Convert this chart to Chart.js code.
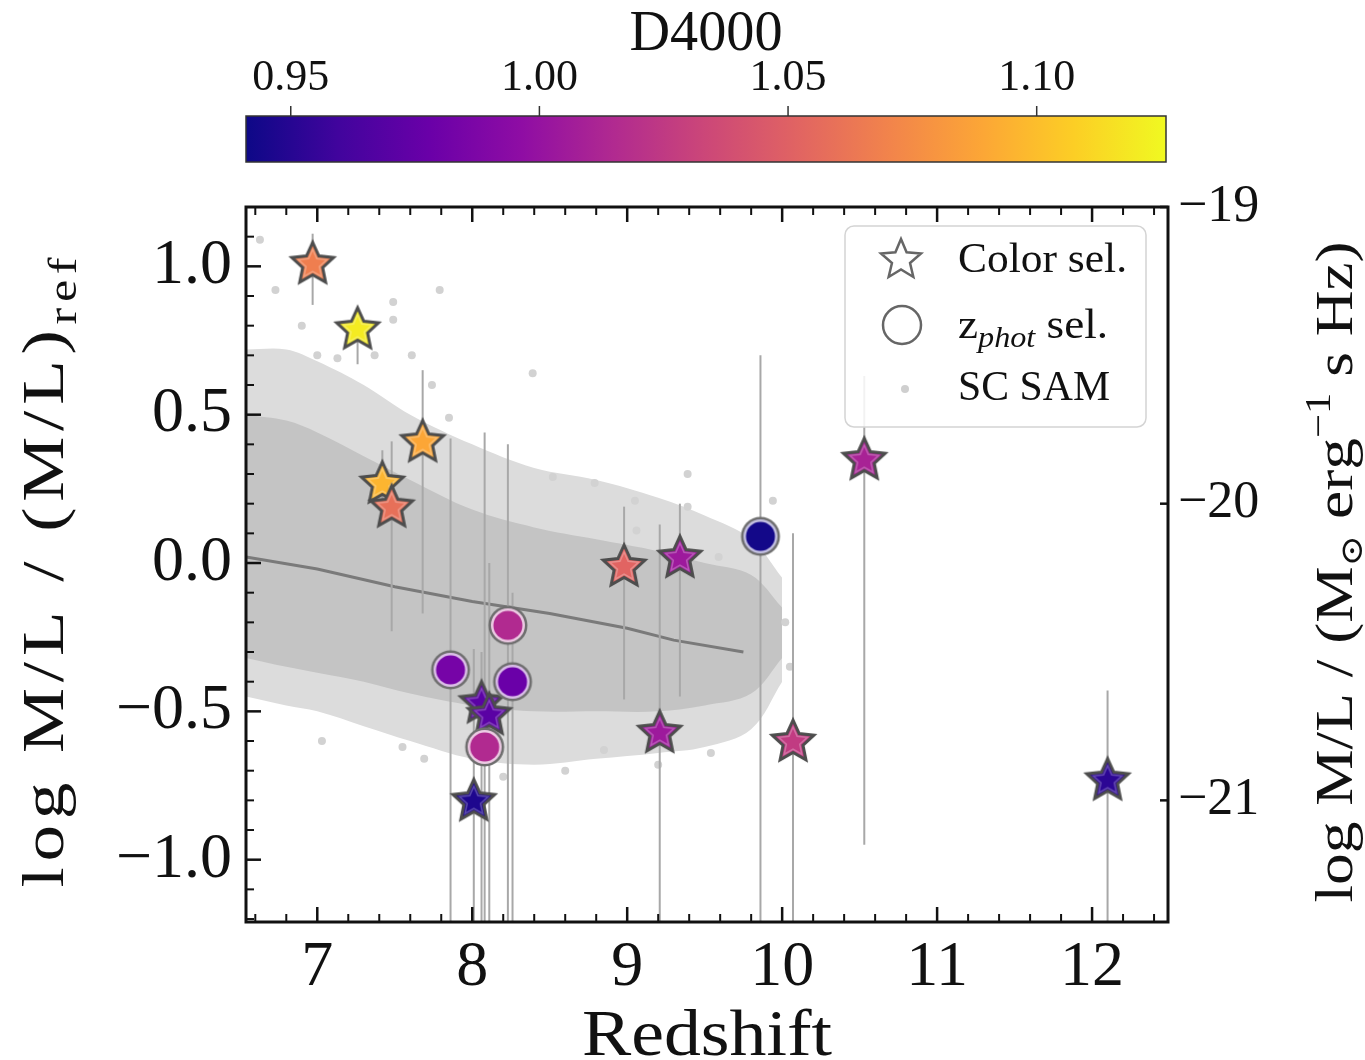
<!DOCTYPE html>
<html>
<head>
<meta charset="utf-8">
<script src="https://cdn.jsdelivr.net/npm/chart.js@4.4.1/dist/chart.umd.min.js"></script>
<style>
  html, body { margin: 0; padding: 0; background: #fff; }
  #wrap { width: 1365px; height: 1060px; }
</style>
</head>
<body>
<div id="wrap"><canvas id="chart" width="1365" height="1060"></canvas></div>
<script>
// Color-selected galaxies (stars)
const starZ     = [6.97, 7.26, 7.68, 7.42, 7.48, 8.98, 9.34, 9.21, 10.53, 10.07, 12.10, 8.01, 8.06, 8.11];
const starML    = [1.01, 0.79, 0.41, 0.27, 0.19, -0.01, 0.02, -0.57, 0.35, -0.60, -0.73, -0.80, -0.47, -0.51];
const starLo    = [0.87, 0.67, -0.17, 0.17, -0.23, -0.46, -0.45, -1.3, -0.95, -1.3, -1.3, -1.3, -1.3, -1.3];
const starHi    = [1.11, 0.86, 0.65, 0.38, 0.41, 0.19, 0.20, 0.13, 0.63, 0.10, -0.43, -0.29, -0.30, 0.00];
const starD4000 = [1.067, 1.120, 1.089, 1.096, 1.059, 1.052, 1.004, 1.004, 1.010, 1.026, 0.952, 0.947, 0.971, 0.971];

// zphot-selected galaxies (circles)
const circZ     = [9.86, 8.23, 7.86, 8.26, 8.08];
const circML    = [0.09, -0.21, -0.36, -0.40, -0.62];
const circLo    = [-1.3, -1.3, -1.3, -1.3, -1.3];
const circHi    = [0.70, 0.40, 0.42, -0.10, 0.44];
const circD4000 = [0.943, 1.015, 0.984, 0.978, 1.015];

// SC SAM cloud: envelopes of the dense and the sparse parts
const samX        = [6.54, 6.8, 7.0, 7.3, 7.6, 8.0, 8.4, 8.8, 9.2, 9.5, 9.8, 10.0];
const samOuterTop = [0.72, 0.72, 0.68, 0.60, 0.50, 0.40, 0.32, 0.28, 0.22, 0.16, 0.08, -0.05];
const samOuterBot = [-0.45, -0.48, -0.50, -0.55, -0.60, -0.66, -0.68, -0.66, -0.64, -0.62, -0.56, -0.40];
const samInnerTop = [0.50, 0.48, 0.44, 0.36, 0.28, 0.18, 0.12, 0.08, 0.04, 0.00, -0.04, -0.15];
const samInnerBot = [-0.32, -0.35, -0.37, -0.40, -0.44, -0.48, -0.50, -0.50, -0.50, -0.48, -0.44, -0.32];
// scattered SAM galaxies outside the envelopes
const samOutX = [6.63, 6.73, 6.90, 7.00, 7.13, 7.37, 7.49, 7.49, 7.61, 7.74, 7.79, 7.85, 8.39, 8.52, 8.79, 9.05,
                 9.06, 9.39, 9.39, 9.59, 9.94, 9.95, 7.03, 7.55, 7.69, 8.85, 9.54, 8.20, 8.60, 9.20, 10.02, 10.05];
const samOutY = [1.09, 0.92, 0.80, 0.70, 0.69, 0.70, 0.88, 0.82, 0.70, 0.60, 0.92, 0.49, 0.64, 0.29, 0.27, 0.21,
                 0.11, 0.30, 0.19, 0.02, 0.21, 0.10, -0.60, -0.62, -0.66, -0.63, -0.64, -0.72, -0.70, -0.68, -0.20, -0.35];

// SAM median relation
const medX = [6.54, 7.0, 7.5, 8.0, 8.5, 9.0, 9.3, 9.75];
const medY = [0.02, -0.02, -0.08, -0.13, -0.17, -0.22, -0.26, -0.30];

// colorbar
const d4000Min = 0.941;
const d4000Max = 1.126;
const cbarTicks = [0.95, 1.00, 1.05, 1.10];

const FONT = '"Liberation Serif", "DejaVu Serif", serif';
const plasmaStops = ['#0d0887', '#41049d', '#6a00a8', '#8f0da4', '#b12a90', '#cc4778',
                     '#e16462', '#f2844b', '#fca636', '#fcce25', '#f0f921'];

function hexRgb(h) {
  return [parseInt(h.slice(1, 3), 16), parseInt(h.slice(3, 5), 16), parseInt(h.slice(5, 7), 16)];
}

function plasma(d, mix) {
  let t = (d - d4000Min) / (d4000Max - d4000Min);
  t = Math.max(0, Math.min(1, t)) * 10;
  const i = Math.min(9, Math.floor(t));
  const f = t - i;
  const a = hexRgb(plasmaStops[i]), b = hexRgb(plasmaStops[i + 1]);
  const c = a.map((v, k) => v + (b[k] - v) * f).map(v => v + (255 - v) * (mix || 0));
  return `rgb(${c.map(Math.round).join(',')})`;
}

function starPath(ctx, cx, cy, R, r) {
  ctx.beginPath();
  for (let k = 0; k < 10; k++) {
    const ang = -Math.PI / 2 + k * Math.PI / 5;
    const rad = k % 2 === 0 ? R : r;
    ctx.lineTo(cx + rad * Math.cos(ang), cy + rad * Math.sin(ang));
  }
  ctx.closePath();
}

function starMarker(color) {
  const c = document.createElement('canvas');
  c.width = c.height = 52;
  const g = c.getContext('2d');
  starPath(g, 26, 27, 22, 10.5);
  g.fillStyle = color;
  g.fill();
  g.lineJoin = 'miter';
  g.lineWidth = 3;
  g.strokeStyle = '#4d4d4d';
  g.stroke();
  starPath(g, 26, 27, 15, 7);
  g.lineWidth = 1.5;
  g.strokeStyle = 'rgba(255,255,255,0.28)';
  g.stroke();
  return c;
}

function circleMarker(d) {
  const c = document.createElement('canvas');
  c.width = c.height = 44;
  const g = c.getContext('2d');
  g.beginPath(); g.arc(22, 22, 19.5, 0, Math.PI * 2);
  g.fillStyle = '#6e6e6e'; g.fill();
  g.beginPath(); g.arc(22, 22, 17, 0, Math.PI * 2);
  g.fillStyle = plasma(d, 0.75); g.fill();
  g.beginPath(); g.arc(22, 22, 14.5, 0, Math.PI * 2);
  g.fillStyle = plasma(d); g.fill();
  return c;
}

// text runs (sub/superscripts); widened to a target length with a stretch plus a little letter spacing
function drawRuns(ctx, runs, size, x, y, opts) {
  const fontOf = r => `${r.italic ? 'italic ' : ''}${Math.round(size * (r.scale || 1))}px ${FONT}`;
  let total = 0, nChars = 0;
  runs.forEach(r => {
    ctx.font = fontOf(r);
    r.w = ctx.measureText(r.t).width;
    total += r.w;
    nChars += r.t.length;
  });
  let k = 1, gap = 0;
  if (opts.target) {
    k = Math.min(opts.target / total, 1.22);
    gap = nChars > 1 ? (opts.target / k - total) / (nChars - 1) : 0;
  }
  const full = total + gap * (nChars - 1);
  ctx.save();
  ctx.translate(x, y);
  ctx.rotate(opts.rotate || 0);
  ctx.scale(k, 1);
  ctx.fillStyle = '#111';
  ctx.textBaseline = 'alphabetic';
  ctx.textAlign = 'left';
  let cx = opts.align === 'left' ? 0 : -full / 2;
  runs.forEach(r => {
    ctx.font = fontOf(r);
    for (const ch of r.t) {
      ctx.fillText(ch, cx, (r.dy || 0) * size);
      cx += ctx.measureText(ch).width + gap;
    }
  });
  ctx.restore();
}

const frame = {
  id: 'frame',
  afterDraw(chart) {
    const { ctx, chartArea: a, scales } = chart;
    const sx = scales.x, sy = scales.y, sy2 = scales.y2;
    ctx.save();
    ctx.strokeStyle = '#111';

    // inward ticks, x (bottom and top)
    for (let k = 33; k <= 62; k++) {
      const v = k / 5;
      if (v < sx.min || v > sx.max) continue;
      const px = sx.getPixelForValue(v);
      const len = k % 5 === 0 ? 15 : 8;
      ctx.lineWidth = k % 5 === 0 ? 2.5 : 2;
      ctx.beginPath();
      ctx.moveTo(px, a.bottom); ctx.lineTo(px, a.bottom - len);
      ctx.moveTo(px, a.top); ctx.lineTo(px, a.top + len);
      ctx.stroke();
    }
    // inward ticks, left y
    for (let k = -12; k <= 12; k++) {
      const v = k / 10;
      if (v < sy.min || v > sy.max) continue;
      const py = sy.getPixelForValue(v);
      const len = k % 5 === 0 ? 15 : 8;
      ctx.lineWidth = k % 5 === 0 ? 2.5 : 2;
      ctx.beginPath();
      ctx.moveTo(a.left, py); ctx.lineTo(a.left + len, py);
      ctx.stroke();
    }
    // inward ticks, right y
    sy2.ticks.forEach(t => {
      const py = sy2.getPixelForValue(t.value);
      ctx.lineWidth = 2.5;
      ctx.beginPath();
      ctx.moveTo(a.right, py); ctx.lineTo(a.right - 8, py);
      ctx.stroke();
    });
    ctx.lineWidth = 3;
    ctx.strokeRect(a.left, a.top, a.right - a.left, a.bottom - a.top);

    // colorbar
    const cbL = a.left, cbR = a.right - 2, cbT = a.top - 91, cbB = a.top - 45;
    const grad = ctx.createLinearGradient(cbL, 0, cbR, 0);
    plasmaStops.forEach((c, i) => grad.addColorStop(i / 10, c));
    ctx.fillStyle = grad;
    ctx.fillRect(cbL, cbT, cbR - cbL, cbB - cbT);
    ctx.lineWidth = 1.5;
    ctx.strokeStyle = '#333';
    ctx.strokeRect(cbL, cbT, cbR - cbL, cbB - cbT);
    ctx.font = `44px ${FONT}`;
    ctx.fillStyle = '#111';
    ctx.textAlign = 'center';
    ctx.textBaseline = 'alphabetic';
    cbarTicks.forEach(v => {
      const px = cbL + (v - d4000Min) / (d4000Max - d4000Min) * (cbR - cbL);
      ctx.beginPath();
      ctx.moveTo(px, cbT); ctx.lineTo(px, cbT - 10);
      ctx.stroke();
      ctx.fillText(v.toFixed(2), px, cbT - 26);
    });
    drawRuns(ctx, [{ t: 'D4000' }], 56, (cbL + cbR) / 2, cbT - 66, { target: 153 });

    // axis titles
    drawRuns(ctx, [{ t: 'Redshift' }], 66, (a.left + a.right) / 2, 1055, { target: 250 });
    drawRuns(ctx, [{ t: 'log M/L / (M/L)' }, { t: 'ref', scale: 0.68, dy: 0.22 }],
      60, 63, (a.top + a.bottom) / 2 + 8, { rotate: -Math.PI / 2, target: 630 });
    drawRuns(ctx, [{ t: 'log M/L / (M' }, { t: '\u2299', scale: 0.6, dy: 0.2 }, { t: ' erg' },
      { t: '\u22121', scale: 0.68, dy: -0.42 }, { t: ' s Hz)' }],
      52, 1352, (a.top + a.bottom) / 2 + 8, { rotate: -Math.PI / 2, target: 660 });

    // legend
    const lx = a.right - 323, ly = a.top + 19, lw = 301, lh = 201;
    ctx.beginPath();
    ctx.roundRect(lx, ly, lw, lh, 9);
    ctx.fillStyle = 'rgba(255,255,255,0.85)';
    ctx.fill();
    ctx.lineWidth = 1.5;
    ctx.strokeStyle = '#d4d4d4';
    ctx.stroke();
    ctx.strokeStyle = '#666';
    ctx.lineWidth = 2.5;
    starPath(ctx, lx + 56, ly + 34, 21, 9.5);
    ctx.stroke();
    ctx.beginPath();
    ctx.arc(lx + 57, ly + 99, 19, 0, Math.PI * 2);
    ctx.stroke();
    ctx.beginPath();
    ctx.arc(lx + 60, ly + 163, 4, 0, Math.PI * 2);
    ctx.fillStyle = '#cfcfcf';
    ctx.fill();
    drawRuns(ctx, [{ t: 'Color sel.' }], 42, lx + 113, ly + 46, { align: 'left', target: 169 });
    drawRuns(ctx, [{ t: 'z' }, { t: 'phot', italic: true, scale: 0.72, dy: 0.22 }, { t: ' sel.' }],
      42, lx + 113, ly + 112, { align: 'left', target: 150 });
    drawRuns(ctx, [{ t: 'SC SAM' }], 42, lx + 113, ly + 174, { align: 'left', target: 152 });

    ctx.restore();
  }
};

const pts = (xs, ys) => xs.map((x, i) => ({ x: x, y: ys[i] }));
const bandStyle = { showLine: true, pointRadius: 0, borderWidth: 0, tension: 0.35 };

const datasets = [
  { ...bandStyle, data: pts(samX, samOuterTop), fill: '+1', backgroundColor: '#dcdcdc', order: 12 },
  { ...bandStyle, data: pts(samX, samOuterBot), fill: false, order: 12 },
  { ...bandStyle, data: pts(samX, samInnerTop), fill: '+1', backgroundColor: '#c4c4c4', order: 11 },
  { ...bandStyle, data: pts(samX, samInnerBot), fill: false, order: 11 },
  { data: pts(samOutX, samOutY), pointRadius: 4, pointBackgroundColor: '#d2d2d2', pointBorderWidth: 0, order: 10 },
  { data: pts(medX, medY), showLine: true, pointRadius: 0, borderColor: '#7a7a7a', borderWidth: 3, order: 9 }
];

starZ.forEach((z, i) => datasets.push({
  data: [{ x: z, y: starLo[i] }, { x: z, y: starHi[i] }],
  showLine: true, pointRadius: 0, borderColor: '#a8a8a8', borderWidth: 2, order: 5
}));
circZ.forEach((z, i) => datasets.push({
  data: [{ x: z, y: circLo[i] }, { x: z, y: circHi[i] }],
  showLine: true, pointRadius: 0, borderColor: '#a8a8a8', borderWidth: 2, order: 5
}));

datasets.push({
  data: pts(starZ, starML),
  pointStyle: starD4000.map(d => starMarker(plasma(d))),
  pointRadius: 22, order: 2
});
datasets.push({
  data: pts(circZ, circML),
  pointStyle: circD4000.map(d => circleMarker(d)),
  pointRadius: 20, order: 1
});

const tickFont = { family: FONT, size: 64 };
const minus = s => s.replace('-', '\u2212');

new Chart(document.getElementById('chart'), {
  type: 'scatter',
  data: { datasets: datasets },
  plugins: [frame],
  options: {
    responsive: false,
    devicePixelRatio: 1,
    animation: false,
    layout: { padding: { top: 207, left: 0, right: 0, bottom: 0 } },
    plugins: { legend: { display: false }, tooltip: { enabled: false } },
    scales: {
      x: {
        type: 'linear', min: 6.54, max: 12.49,
        grid: { display: false, drawTicks: false },
        border: { display: false },
        ticks: { stepSize: 1, includeBounds: false, padding: 8, font: tickFont, color: '#111',
          callback: v => String(v) },
        afterFit: s => { s.height = 138; }
      },
      y: {
        type: 'linear', position: 'left', min: -1.21, max: 1.2,
        grid: { display: false, drawTicks: false },
        border: { display: false },
        ticks: { stepSize: 0.5, includeBounds: false, padding: 14, font: tickFont, color: '#111',
          callback: v => minus(v.toFixed(1)) },
        afterFit: s => { s.width = 246; }
      },
      y2: {
        type: 'linear', position: 'right', min: -21.41, max: -19.0,
        grid: { display: false, drawTicks: false },
        border: { display: false },
        ticks: { stepSize: 1, includeBounds: false, padding: 10, font: { family: FONT, size: 52 }, color: '#111',
          callback: v => minus(String(Math.round(v))) },
        afterFit: s => { s.width = 197; }
      }
    }
  }
});
</script>
</body>
</html>
